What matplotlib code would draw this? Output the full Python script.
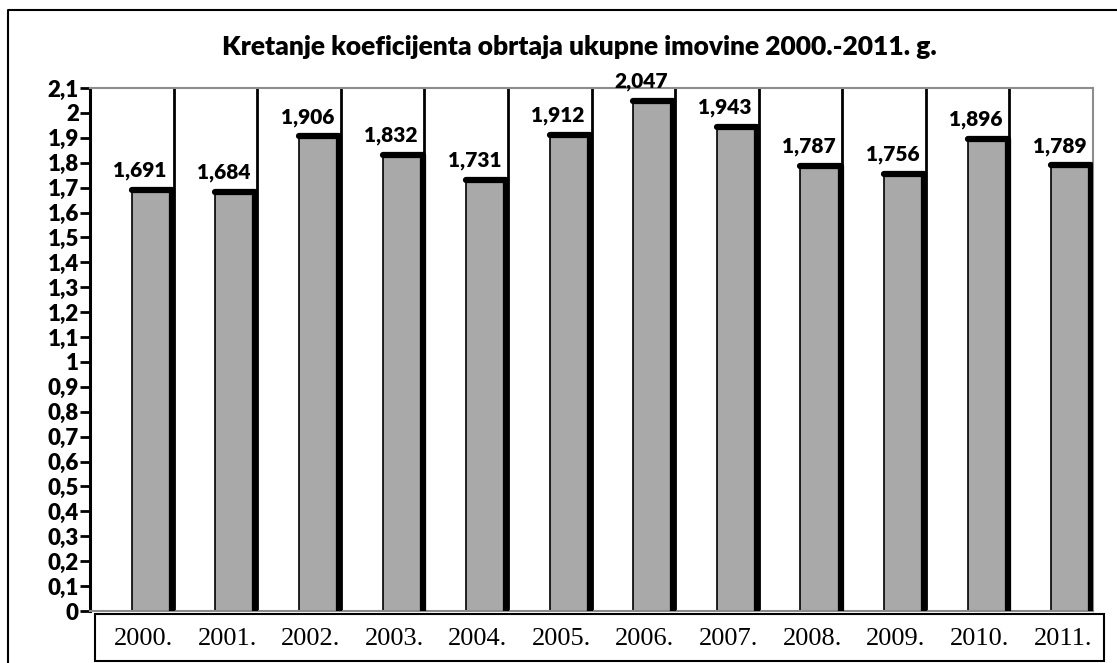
import numpy as np
import matplotlib
matplotlib.use('Agg')
from matplotlib import pyplot as plt
from matplotlib.patches import Rectangle
from matplotlib.lines import Line2D

years = ['2000.', '2001.', '2002.', '2003.', '2004.', '2005.',
         '2006.', '2007.', '2008.', '2009.', '2010.', '2011.']
values = [1.691, 1.684, 1.906, 1.832, 1.731, 1.912,
          2.047, 1.943, 1.787, 1.756, 1.896, 1.789]
yticks = np.round(np.arange(0, 2.11, 0.1), 1)
title = 'Kretanje koeficijenta obrtaja ukupne imovine 2000.-2011. g.'

W, H = 1117, 663
fig = plt.figure(figsize=(W / 100, H / 100), dpi=100)
fig.patch.set_facecolor('white')

def fx(px):
    return px / W

def fy(py):
    return 1 - py / H

ax = fig.add_axes([fx(90), fy(611), fx(1093) - fx(90), fy(88) - fy(611)])
ax.set_xlim(-0.5, len(values) - 0.5)
ax.set_ylim(0, 2.1)

# bars: gray body, thick black top and right edge
for i, v in enumerate(values):
    ax.bar(i, v, width=0.48, align='edge', color='#a9a9a9',
           edgecolor='black', linewidth=1.2, zorder=2)
    ax.plot([i, i + 0.48, i + 0.48], [v, v, 0], color='black', lw=4.5,
            solid_capstyle='round', solid_joinstyle='round', zorder=3)
    lab = ('%.3f' % v).replace('.', ',')
    ax.annotate(lab, (i + 0.1, v), xytext=(0, 7), textcoords='offset points',
                ha='center', va='bottom', fontsize=15, fontweight='heavy',
                family='Lato', zorder=4)

# separators between categories
for i in range(len(values) - 1):
    ax.axvline(i + 0.5, color='black', lw=2, zorder=1)

def fmt(v):
    s = ('%.1f' % v).replace('.', ',')
    if s.endswith(',0'):
        s = s[:-2]
    return s

ax.set_yticks(yticks)
ax.set_yticklabels([fmt(v) for v in yticks], fontsize=16,
                   fontweight='heavy', family='Lato')
ax.set_xticks([])
ax.tick_params(axis='y', direction='out', length=7, width=2, pad=1)
ax.spines['left'].set_linewidth(2.2)
for s in ['top', 'right', 'bottom']:
    ax.spines[s].set_color('#8c8c8c')
    ax.spines[s].set_linewidth(1.5)

# category label box
fig.patches.append(Rectangle((fx(95), fy(661)), fx(1104) - fx(95), fy(614) - fy(661),
                             transform=fig.transFigure, facecolor='white',
                             edgecolor='black', linewidth=1.5))
for i, y in enumerate(years):
    xd = ax.transData.transform((i + 0.14, 0))[0]
    fig.text(xd / fig.dpi / fig.get_figwidth(), fy(639), y, ha='center', va='center',
             fontsize=19, family='Liberation Serif')

# outer frame
fig.lines.append(Line2D([fx(8), fx(8), 1.0], [0, fy(10), fy(10)],
                        transform=fig.transFigure, color='black', lw=1.5))

fig.text(fx(579), fy(47), title, ha='center', va='center', fontsize=19,
         fontweight='heavy', family='Lato')

fig.savefig('out.png', dpi=100)
